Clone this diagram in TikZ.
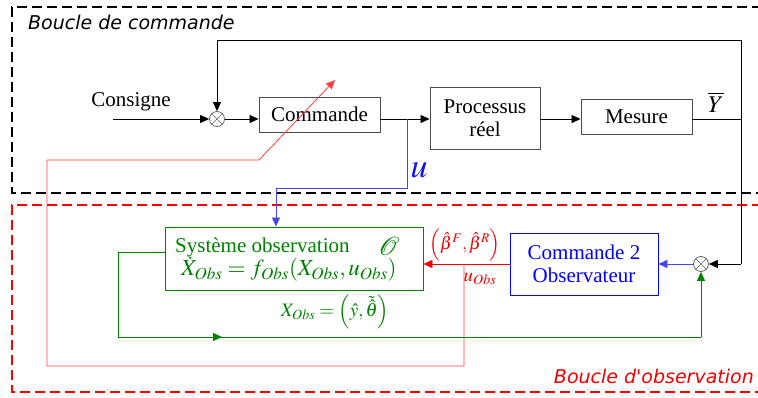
\documentclass[tikz,border=0pt]{standalone}
\usepackage{mathptmx}
\usepackage{fontspec}
\setmainfont{Liberation Serif}
\newfontfamily\handfont{DejaVu Sans}
\usetikzlibrary{arrows.meta}
\definecolor{mygreen}{RGB}{0,128,0}
\definecolor{myblue}{RGB}{20,20,240}
\definecolor{linkblue}{RGB}{70,70,230}
\definecolor{myred}{RGB}{240,0,0}
\begin{document}
\begin{tikzpicture}[x=1pt,y=-1pt,
  blk/.style={draw=black!70, line width=0.9pt, inner sep=0pt, font=\fontsize{21}{25}\selectfont, align=center},
  sumnode/.style={draw=black!60, circle, minimum size=15pt, inner sep=0pt, line width=0.8pt},
  conn/.style={line width=0.8pt},
  tip/.style={-{Triangle[length=9pt,width=8pt]}},
  lbl/.style={font=\fontsize{21}{25}\selectfont, inner sep=0pt},
  frame/.style={line width=2.5pt, dash pattern=on 10pt off 5pt},
  title/.style={font=\handfont\itshape\fontsize{19}{22}\selectfont, inner sep=0pt}
]
\useasboundingbox (0,0) rectangle (758,398);
% frames
\draw[frame] (762,7) -- (12,7) -- (12,193) -- (762,193);
\draw[frame, red] (762,205) -- (12,205) -- (12,392) -- (762,392);
\node[title, anchor=west] (t1) at (28,22) {Boucle de commande};
\node[title, anchor=east, text=myred] (t2) at (754,376) {Boucle d'observation};

% top loop nodes
\node[sumnode] (s1) at (217,119) {};
\draw[black!60, line width=0.6pt] (s1.north east) -- (s1.south west) (s1.north west) -- (s1.south east);
\node[blk, minimum width=121pt, minimum height=35pt] (cmd) at (319.5,114.5) {Commande};
\node[blk, minimum width=110pt, minimum height=62pt] (proc) at (485,118) {Processus\\[-2pt]réel};
\node[blk, minimum width=111pt, minimum height=35pt] (mes) at (636.5,116.5) {Mesure};
\node[lbl, anchor=base] (cons) at (131,107) {Consigne};
\node[font=\fontsize{24}{24}\selectfont, inner sep=0pt] (ybar) at (716,102) {$\overline{Y}$};

% bottom loop nodes
\node[draw=mygreen, line width=0.9pt, minimum width=258pt, minimum height=63pt, inner sep=0pt] (obs) at (294,258.5) {};
\node[lbl, text=mygreen, anchor=base west] (obst) at (175,253) {Système observation};
\node[text=mygreen, font=\fontsize{26}{26}\selectfont, inner sep=0pt] (obsO) at (389,246) {$\mathcal{O}$};
\node[text=mygreen, anchor=base west, font=\fontsize{23}{23}\selectfont, inner sep=0pt] (obseq) at (181,276) {$\dot{X}_{Obs}=f_{Obs}(X_{Obs},u_{Obs})$};
\node[blk, draw=blue, text=blue, minimum width=148pt, minimum height=62pt] (cmd2) at (584,264) {Commande 2\\[-2pt]Observateur};
\node[sumnode] (s2) at (701,264) {};
\draw[black!60, line width=0.6pt] (s2.north east) -- (s2.south west) (s2.north west) -- (s2.south east);
\node[text=mygreen, font=\fontsize{19}{19}\selectfont, inner sep=0pt] (xlab) at (335,312) {$X_{Obs}=\left(\hat{y},\tilde{\hat{\theta}}\right)$};
\node[text=myred, font=\fontsize{18}{18}\selectfont, inner sep=0pt] (blab) at (465,245) {$\left(\hat{\beta}^F,\hat{\beta}^R\right)$};
\node[text=myred, font=\fontsize{19}{19}\selectfont, inner sep=0pt] (uobs) at (480,279) {$u_{Obs}$};
\node[text=myblue, font=\fontsize{34}{34}\selectfont, inner sep=0pt] (ulab) at (419,170) {$u$};

% coordinates
\coordinate (cstart) at (113,119);
\coordinate (r1) at (741,119);
\coordinate (rtop) at (741,40);
\coordinate (r2) at (741,264);
\coordinate (ub) at (407,119);
\coordinate (ud) at (407,188);
\coordinate (ul) at (276,188);
\coordinate (ra) at (464,264);
\coordinate (rb) at (464,366);
\coordinate (rc) at (47,366);
\coordinate (rd) at (47,160);
\coordinate (re) at (259,160);
\coordinate (rf) at (335,80);
\coordinate (ga) at (118,252);
\coordinate (gb) at (118,337);
\coordinate (gm) at (222,337);
\coordinate (gc) at (701,337);

% top connectors
\draw[conn, tip] (cstart) -- (s1.west);
\draw[conn, tip] (s1.east) -- (cmd.west |- s1);
\draw[conn, tip] (cmd.east |- s1) -- (proc.west |- s1);
\draw[conn, tip] (proc.east |- s1) -- (mes.west |- s1);
\draw[conn] (mes.east |- s1) -- (r1);
\draw[conn, tip] (r2) -- (rtop) -| (s1.north);
\draw[conn, tip] (r2) -- (s2.east);

% blue
\draw[conn, linkblue, tip] (ub) -- (ud) -- (ul) -- (ul |- obs.north);
\draw[conn, linkblue, tip] (s2.west) -- (cmd2.east);

% red
\draw[conn, myred, tip] (cmd2.west) -- (obs.east |- cmd2);
\draw[conn, red!75, tip] (ra) -- (rb) -- (rc) -- (rd) -- (re) -- (rf);

% green
\draw[conn, mygreen] (obs.west |- ga) -- (ga) -- (gb) -- (gc);
\draw[conn, mygreen, tip] (gb) -- (gm);
\draw[conn, mygreen, tip] (gc) -- (s2.south);
\end{tikzpicture}
\end{document}
